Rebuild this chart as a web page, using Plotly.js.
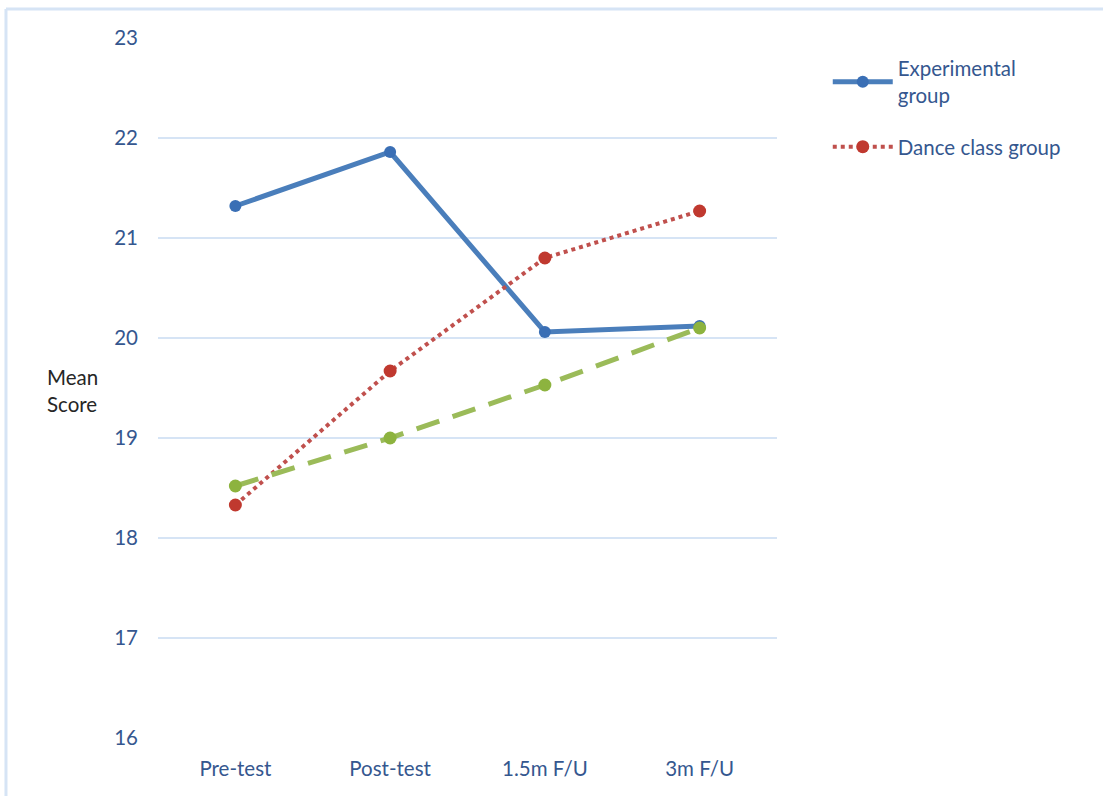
<!DOCTYPE html>
<html>
<head>
<meta charset="utf-8">
<script src="https://cdn.plot.ly/plotly-3.0.1.min.js"></script>
<style>
  html, body { margin: 0; padding: 0; background: #fff; }
  #chart { width: 1103px; height: 796px; }
</style>
</head>
<body>
<div id="chart"></div>
<script>
const categories = ["Pre-test", "Post-test", "1.5m F/U", "3m F/U"];
const experimental = [21.32, 21.86, 20.06, 20.12];
const danceClass = [18.33, 19.67, 20.80, 21.27];
const thirdGroup = [18.52, 19.00, 19.53, 20.10];
const yTicks = [16, 17, 18, 19, 20, 21, 22, 23];

const FONT = "Lato, 'Open Sans', sans-serif";
const TICKCOL = "#35578F";
const FS = 20.5;

const traces = [
  {
    x: categories, y: experimental, name: "Experimental<br>group",
    legendgroup: "a",
    type: "scatter", mode: "lines+markers",
    line: { color: "#4A7EBB", width: 5 },
    marker: { color: "#3A6FB5", size: 12 }
  },
  {
    x: categories, y: danceClass, name: "Dance class group",
    legendgroup: "b",
    type: "scatter", mode: "lines+markers",
    line: { color: "#C0504D", width: 4, dash: "dot" },
    marker: { color: "#C0392F", size: 13 }
  },
  {
    x: categories, y: thirdGroup, name: "Control group", showlegend: false,
    legendgroup: "c",
    type: "scatter", mode: "lines+markers",
    line: { color: "#9BBB59", width: 5, dash: "24px,14px" },
    marker: { color: "#8DB33F", size: 13 }
  }
];

const layout = {
  width: 1103, height: 796,
  margin: { l: 158, r: 326, t: 38, b: 58 },
  paper_bgcolor: "#fff", plot_bgcolor: "#fff",
  font: { family: FONT, size: FS, color: TICKCOL },
  xaxis: {
    type: "category", range: [-0.5, 3.5],
    showgrid: false, zeroline: false, showline: false,
    ticks: "", ticklabelstandoff: 16,
    tickfont: { size: FS, color: TICKCOL }, fixedrange: true
  },
  yaxis: {
    range: [16, 23], tickvals: yTicks, ticktext: yTicks.map(String),
    showgrid: true, gridcolor: "#D6E4F5", gridwidth: 1.2,
    zeroline: false, showline: false, ticks: "",
    ticklabelstandoff: 19,
    tickfont: { size: FS, color: TICKCOL }, fixedrange: true
  },
  legend: {
    x: 1.082, y: 0.985, xanchor: "left", yanchor: "top",
    traceorder: "grouped", tracegroupgap: 22,
    font: { size: FS, color: TICKCOL, family: FONT },
    itemwidth: 60, bgcolor: "rgba(0,0,0,0)"
  },
  annotations: [
    {
      text: "Mean<br>Score", xref: "paper", yref: "paper",
      x: (72 - 158) / 619, y: (738 - 390) / 700, xanchor: "center", yanchor: "middle",
      showarrow: false, align: "left",
      font: { size: FS, color: "#262626", family: FONT }
    }
  ],
  shapes: [
    { type: "line", xref: "paper", yref: "paper", x0: -0.2456, x1: -0.2456, y0: -0.1, y1: 1.0414,
      line: { color: "#D6E4F5", width: 3 } },
    { type: "line", xref: "paper", yref: "paper", x0: -0.2456, x1: 1.6, y0: 1.0414, y1: 1.0414,
      line: { color: "#D6E4F5", width: 3 } }
  ],
  showlegend: true
};

Plotly.newPlot("chart", traces, layout, { displayModeBar: false, staticPlot: true });
</script>
</body>
</html>
